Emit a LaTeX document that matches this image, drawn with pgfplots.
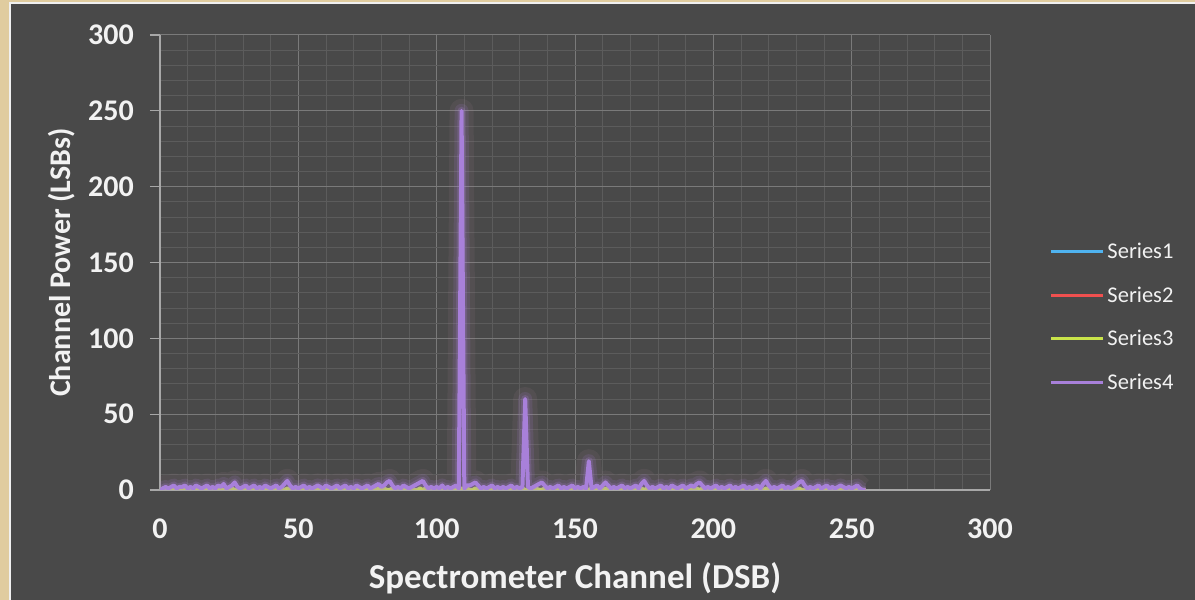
\documentclass[border=0pt]{standalone}
\usepackage{fontspec}
\setmainfont{Carlito}
\usepackage{pgfplots}
\usepackage{pgfplotstable}
\pgfplotsset{compat=1.18}
\definecolor{bg}{HTML}{494949}
\definecolor{beige}{HTML}{E0CC9F}
\definecolor{majgrid}{HTML}{7A7A7A}
\definecolor{mingrid}{HTML}{5C5C5C}
\definecolor{axln}{HTML}{A8A8A8}
\definecolor{txt}{HTML}{F2F2F2}
\definecolor{sA}{HTML}{4FB3F0}
\definecolor{sB}{HTML}{F0504F}
\definecolor{sC}{HTML}{C9E44A}
\definecolor{sD}{HTML}{A880DA}
\definecolor{haze}{HTML}{B08A9A}

% Series4 channel power, channels 0..255
\pgfplotstableread[row sep=\\]{y\\
0\\1\\2\\1\\2\\3\\1\\2\\2\\3\\1\\2\\1\\3\\2\\1\\
2\\3\\1\\2\\1\\3\\2\\4\\1\\2\\3\\5\\2\\1\\2\\3\\
1\\2\\3\\1\\2\\1\\3\\2\\1\\2\\3\\1\\2\\4\\6\\3\\
1\\2\\1\\2\\3\\1\\2\\1\\2\\3\\2\\1\\3\\2\\1\\2\\
3\\1\\2\\3\\1\\2\\1\\3\\2\\1\\2\\3\\1\\2\\3\\4\\
2\\3\\5\\6\\3\\1\\2\\1\\3\\2\\1\\2\\3\\4\\5\\6\\
3\\1\\2\\1\\2\\1\\3\\1\\2\\1\\2\\3\\1\\250\\1\\3\\
3\\4\\5\\3\\1\\2\\1\\2\\3\\1\\2\\1\\2\\1\\2\\3\\
1\\2\\1\\2\\60\\2\\1\\2\\3\\4\\5\\3\\1\\2\\1\\2\\
3\\1\\2\\1\\2\\3\\1\\2\\1\\2\\1\\19\\1\\2\\3\\1\\
3\\5\\3\\1\\2\\1\\2\\3\\1\\2\\1\\2\\3\\1\\4\\6\\
3\\1\\2\\1\\2\\3\\1\\2\\1\\3\\2\\1\\2\\3\\1\\2\\
3\\2\\4\\5\\3\\1\\2\\1\\2\\3\\1\\2\\1\\2\\3\\1\\
2\\1\\2\\3\\1\\2\\1\\2\\3\\1\\4\\6\\3\\1\\2\\1\\
2\\3\\1\\2\\1\\2\\3\\5\\6\\3\\1\\2\\1\\2\\3\\1\\
2\\3\\1\\2\\1\\2\\3\\2\\1\\2\\1\\2\\3\\1\\0\\0\\
}\seriesD

% Series3
\pgfplotstableread[row sep=\\]{y\\
0\\1\\0\\0\\1\\0\\1\\0\\0\\1\\0\\1\\0\\0\\1\\0\\
1\\0\\0\\1\\0\\1\\0\\0\\1\\0\\1\\0\\0\\1\\0\\1\\
0\\0\\1\\0\\1\\0\\0\\1\\0\\1\\0\\0\\1\\0\\1\\0\\
0\\1\\0\\1\\0\\0\\1\\0\\1\\0\\0\\1\\0\\1\\0\\0\\
1\\0\\1\\0\\0\\1\\0\\1\\0\\0\\1\\0\\1\\0\\0\\1\\
0\\1\\0\\0\\1\\0\\1\\0\\0\\1\\0\\1\\0\\0\\1\\0\\
1\\0\\0\\1\\0\\1\\0\\0\\1\\0\\1\\0\\0\\1\\0\\1\\
0\\0\\1\\0\\1\\0\\0\\1\\0\\1\\0\\0\\1\\0\\1\\0\\
0\\1\\0\\1\\0\\0\\1\\0\\1\\0\\0\\1\\0\\1\\0\\0\\
1\\0\\1\\0\\0\\1\\0\\1\\0\\0\\1\\0\\1\\0\\0\\1\\
0\\1\\0\\0\\1\\0\\1\\0\\0\\1\\0\\1\\0\\0\\1\\0\\
1\\0\\0\\1\\0\\1\\0\\0\\1\\0\\1\\0\\0\\1\\0\\1\\
0\\0\\1\\0\\1\\0\\0\\1\\0\\1\\0\\0\\1\\0\\1\\0\\
0\\1\\0\\1\\0\\0\\1\\0\\1\\0\\0\\1\\0\\1\\0\\0\\
1\\0\\1\\0\\0\\1\\0\\1\\0\\0\\1\\0\\1\\0\\0\\1\\
0\\1\\0\\0\\1\\0\\1\\0\\0\\1\\0\\1\\0\\0\\0\\0\\
}\seriesC

\begin{document}
\begin{tikzpicture}
\useasboundingbox (0pt,0pt) rectangle (1195pt,600pt);
\fill[beige] (0pt,0pt) rectangle (1195pt,600pt);
\fill[white!88!gray] (9pt,0pt) rectangle (1195pt,598pt);
\fill[bg] (11pt,0pt) rectangle (1195pt,596pt);
\begin{axis}[
  at={(160pt,110pt)}, anchor=south west,
  scale only axis, width=830pt, height=455pt,
  xmin=0, xmax=300, ymin=0, ymax=300,
  xtick={0,50,...,300}, ytick={0,50,...,300},
  minor x tick num=4, minor y tick num=4,
  grid=both,
  major grid style={draw=majgrid, line width=1pt},
  minor grid style={draw=mingrid, line width=0.8pt},
  axis x line*=bottom, axis y line*=left,
  axis line style={draw=axln, line width=1.2pt, -},
  tick align=outside,
  major tick length=10pt, minor tick length=0pt,
  xtick style={draw=none},
  ytick style={draw=axln, line width=1.2pt},
  /pgf/number format/assume math mode=true,
  ticklabel style={font=\bfseries\fontsize{30}{30}\selectfont, text=txt, inner sep=0pt},
  xticklabel style={yshift=-19pt},
  yticklabel style={xshift=-16pt},
  xlabel={Spectrometer Channel (DSB)},
  ylabel={Channel Power (LSBs)},
  label style={text=txt, inner sep=0pt},
  xlabel style={font=\bfseries\fontsize{35}{35}\selectfont, at={(axis description cs:0.5,0)}, anchor=center, yshift=-88pt},
  ylabel style={font=\bfseries\fontsize{30}{30}\selectfont, at={(axis description cs:0,0.5)}, anchor=center, yshift=98pt},
  legend style={at={(axis description cs:1.072,0.548)}, anchor=north west,
    draw=none, fill=none, inner sep=0pt,
    font=\fontsize{22.5}{22.5}\selectfont, text=txt,
    row sep=21.5pt, nodes={inner sep=2.5pt}},
  legend cell align=left,
  legend image code/.code={\draw[#1, line width=3pt] (0pt,0pt) -- (52pt,0pt);},
]
\addplot[sA, line width=4pt] coordinates {(0,0) (255,0)};
\addlegendentry{Series1}
\addplot[sB, line width=4pt] coordinates {(0,0) (255,0)};
\addlegendentry{Series2}
\addplot[sC, line width=4pt, line join=round] table[x expr=\coordindex, y=y] {\seriesC};
\addlegendentry{Series3}
\addplot[haze, line width=24pt, opacity=0.10, line join=round, forget plot] table[x expr=\coordindex, y=y] {\seriesD};
\addplot[sD, line width=14pt, opacity=0.14, line join=round, forget plot] table[x expr=\coordindex, y=y] {\seriesD};
\addplot[sD, line width=8pt, opacity=0.22, line join=round, forget plot] table[x expr=\coordindex, y=y] {\seriesD};
\addplot[sD, line width=4pt, line join=round] table[x expr=\coordindex, y=y] {\seriesD};
\addlegendentry{Series4}
\end{axis}
\end{tikzpicture}
\end{document}
